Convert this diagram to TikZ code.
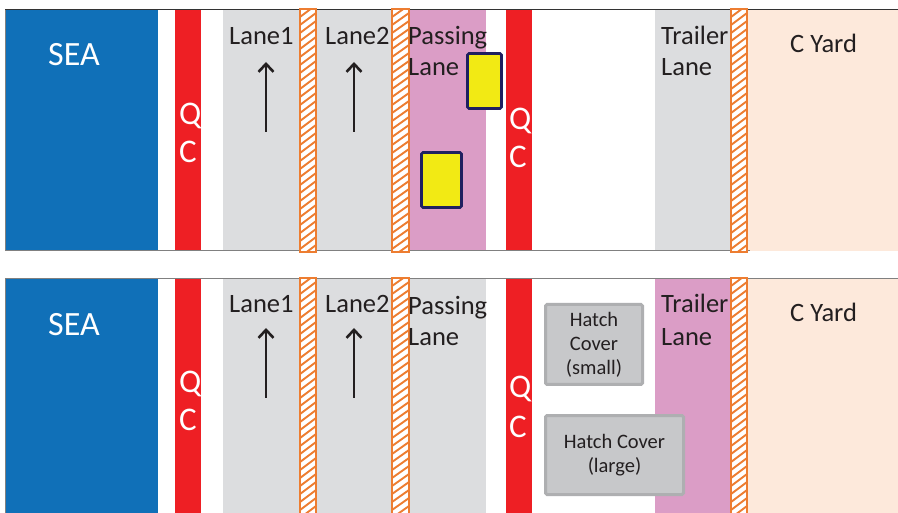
\documentclass[tikz,border=0pt]{standalone}
\usepackage{fontspec}
\setmainfont{Carlito}
\usetikzlibrary{arrows.meta}

\definecolor{seablue}{HTML}{1070B8}
\definecolor{qcred}{HTML}{EE1F24}
\definecolor{lanegray}{HTML}{DCDDDF}
\definecolor{lanepink}{HTML}{DB9DC6}
\definecolor{yardpeach}{HTML}{FDE9DB}
\definecolor{barorange}{HTML}{ED7D31}
\definecolor{boxyellow}{HTML}{F2EA14}
\definecolor{boxnavy}{HTML}{1F2060}
\definecolor{hatchfill}{HTML}{C7C8CA}
\definecolor{hatchedge}{HTML}{AEAFB1}
\definecolor{inkdark}{HTML}{231F20}
\definecolor{edgegray}{HTML}{808080}

% striped barrier: x0 y0 x1 y1
\newcommand\hazardbar[4]{%
  \begin{scope}
    \clip (#1,#2) rectangle (#3,#4);
    \fill[white] (#1,#2) rectangle (#3,#4);
    \foreach \k in {0,8,...,248}
      \draw[barorange, line width=1.9pt] ({#1},{#2+\k}) -- ({#3},{#2+\k-12});
  \end{scope}
  \draw[barorange, line width=1.8pt] (#1,#2) rectangle (#3,#4);
}

\tikzset{
  bigwhite/.style={text=white, font=\fontsize{34}{34}\selectfont, inner sep=0pt},
  qcletter/.style={text=white, font=\fontsize{33}{33}\selectfont, inner sep=0pt, anchor=base west},
  lanelabel/.style={text=inkdark, font=\fontsize{26.5}{26.5}\selectfont, inner sep=0pt, anchor=base west},
  flowarrow/.style={inkdark, line width=2.6pt, -{Straight Barb[length=8pt,width=15pt]}},
  truckbox/.style={fill=boxyellow, draw=boxnavy, line width=2.6pt, rounded corners=1.5pt},
  hatchbox/.style={fill=hatchfill, draw=hatchedge, line width=3pt, rounded corners=1.5pt,
    text=inkdark, font=\fontsize{20.5}{24}\selectfont, align=center},
}

\begin{document}
\begin{tikzpicture}[x=1pt,y=-1pt]
\useasboundingbox (0,0) rectangle (898,513);
\fill[white] (0,0) rectangle (898,513);

% ---------- upper layout ----------
\fill[seablue] (5,10) rectangle (158,251);
\fill[qcred] (175,10) rectangle (201,251);
\fill[lanegray] (223,10) rectangle (400,251);
\fill[lanepink] (400,10) rectangle (486,251);
\fill[qcred] (506,10) rectangle (532,251);
\fill[lanegray] (655,10) rectangle (740,251);
\fill[yardpeach] (740,10) rectangle (898,251);
\draw[edgegray, line width=0.8pt] (5,10) -- (5,251);
\draw[edgegray, line width=1pt] (5,251) -- (750,251);
\draw[black!80, line width=1pt] (5,10) -- (898,10);
\hazardbar{300}{9}{316}{252}
\hazardbar{392}{9}{409}{252}
\hazardbar{731}{9}{747}{252}

\node[bigwhite] (seaA) at (74,55) {SEA};
\node[qcletter] (qA1) at (179,125) {Q};
\node[qcletter] (cA1) at (179,163) {C};
\node[qcletter] (qA2) at (509,130) {Q};
\node[qcletter] (cA2) at (509,168) {C};
\node[lanelabel] (l1A) at (229,45) {Lane1};
\node[lanelabel] (l2A) at (325,45) {Lane2};
\node[lanelabel] (pA1) at (408,45) {Passing};
\node[lanelabel] (pA2) at (408,76) {Lane};
\node[lanelabel] (tA1) at (661,45) {Trailer};
\node[lanelabel] (tA2) at (661,76) {Lane};
\node[lanelabel] (yA) at (790,53) {C Yard};

\coordinate (a1s) at (266,132); \coordinate (a1e) at (266,62);
\coordinate (a2s) at (354,132); \coordinate (a2e) at (354,62);
\draw[flowarrow] (a1s) -- (a1e);
\draw[flowarrow] (a2s) -- (a2e);

\node[truckbox, minimum width=34pt, minimum height=55pt] (truck1) at (484.5,81) {};
\node[truckbox, minimum width=40pt, minimum height=55pt] (truck2) at (441.5,180) {};

% ---------- lower layout ----------
\fill[seablue] (5,279) rectangle (158,513);
\fill[qcred] (175,279) rectangle (201,513);
\fill[lanegray] (223,279) rectangle (486,513);
\fill[qcred] (506,279) rectangle (532,513);
\fill[lanepink] (655,279) rectangle (740,513);
\fill[yardpeach] (740,279) rectangle (898,513);
\draw[edgegray, line width=0.8pt] (5,279) -- (5,513);
\draw[edgegray, line width=1pt] (5,279) -- (898,279);
\hazardbar{300}{278}{316}{514}
\hazardbar{392}{278}{409}{514}
\hazardbar{731}{278}{747}{514}

\node[bigwhite] (seaB) at (74,325) {SEA};
\node[qcletter] (qB1) at (179,392) {Q};
\node[qcletter] (cB1) at (179,431) {C};
\node[qcletter] (qB2) at (509,397) {Q};
\node[qcletter] (cB2) at (509,437) {C};
\node[lanelabel] (l1B) at (229,313) {Lane1};
\node[lanelabel] (l2B) at (325,313) {Lane2};
\node[lanelabel] (pB1) at (408,315) {Passing};
\node[lanelabel] (pB2) at (408,345) {Lane};
\node[lanelabel] (tB1) at (661,313) {Trailer};
\node[lanelabel] (tB2) at (661,345) {Lane};
\node[lanelabel] (yB) at (790,322) {C Yard};

\coordinate (b1s) at (266,398); \coordinate (b1e) at (266,328);
\coordinate (b2s) at (354,398); \coordinate (b2e) at (354,328);
\draw[flowarrow] (b1s) -- (b1e);
\draw[flowarrow] (b2s) -- (b2e);

\node[hatchbox, minimum width=97pt, minimum height=80pt, inner sep=0pt] (hcs) at (594,344.5) {Hatch\\Cover\\(small)};
\node[hatchbox, minimum width=138pt, minimum height=79pt, inner sep=0pt] (hcl) at (614.5,455) {Hatch Cover\\(large)};
\end{tikzpicture}
\end{document}
